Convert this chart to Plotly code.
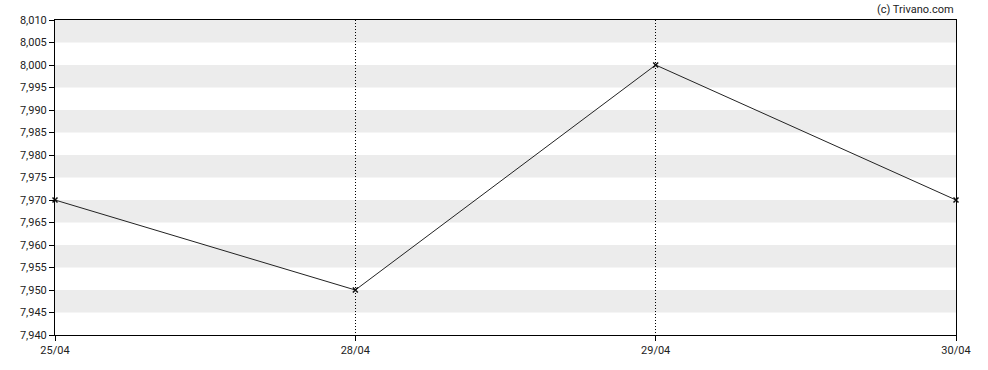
import plotly.graph_objects as go

dates = ["25/04", "28/04", "29/04", "30/04"]
prices = [7.970, 7.950, 8.000, 7.970]
y_min, y_max, y_step = 7.940, 8.010, 0.005

fig = go.Figure()
fig.add_trace(go.Scatter(
    x=dates, y=prices, mode="lines+markers", cliponaxis=False,
    line=dict(color="#222222", width=1),
    marker=dict(symbol="x-thin", size=5, color="#111111", line=dict(width=1.5, color="#111111")),
    showlegend=False, hoverinfo="skip"))

shapes = []
n = round((y_max - y_min) / y_step)
for i in range(n):
    lo = y_min + i * y_step
    if i % 2 == 1:
        shapes.append(dict(type="rect", xref="paper", yref="y", x0=0, x1=1,
                           y0=lo, y1=lo + y_step, fillcolor="#ececec",
                           line=dict(width=0), layer="below"))

fig.update_layout(
    width=988, height=370,
    margin=dict(l=55, r=32, t=20, b=35),
    plot_bgcolor="white", paper_bgcolor="white",
    separators=",.",
    font=dict(family="Roboto", size=11, color="#222222"),
    shapes=shapes,
    xaxis=dict(type="category", range=[0, 3], showgrid=True, gridcolor="#000000",
               griddash="1px,2px", gridwidth=1, showline=True, linecolor="#000000",
               linewidth=1, mirror=True, ticks="outside", ticklen=5,
               tickcolor="#000000", zeroline=False, fixedrange=True),
    yaxis=dict(range=[y_min, y_max], dtick=y_step, tick0=y_min, tickformat=".3f",
               showgrid=False, showline=True, linecolor="#000000", linewidth=1,
               mirror=True, ticks="outside", ticklen=5, tickcolor="#000000",
               zeroline=False, fixedrange=True),
    annotations=[dict(text="(c) Trivano.com", xref="paper", yref="paper",
                      x=1, y=1, xanchor="right", yanchor="bottom", yshift=2,
                      showarrow=False, font=dict(size=11, color="#222222"))],
)

fig.write_html("out.html")
